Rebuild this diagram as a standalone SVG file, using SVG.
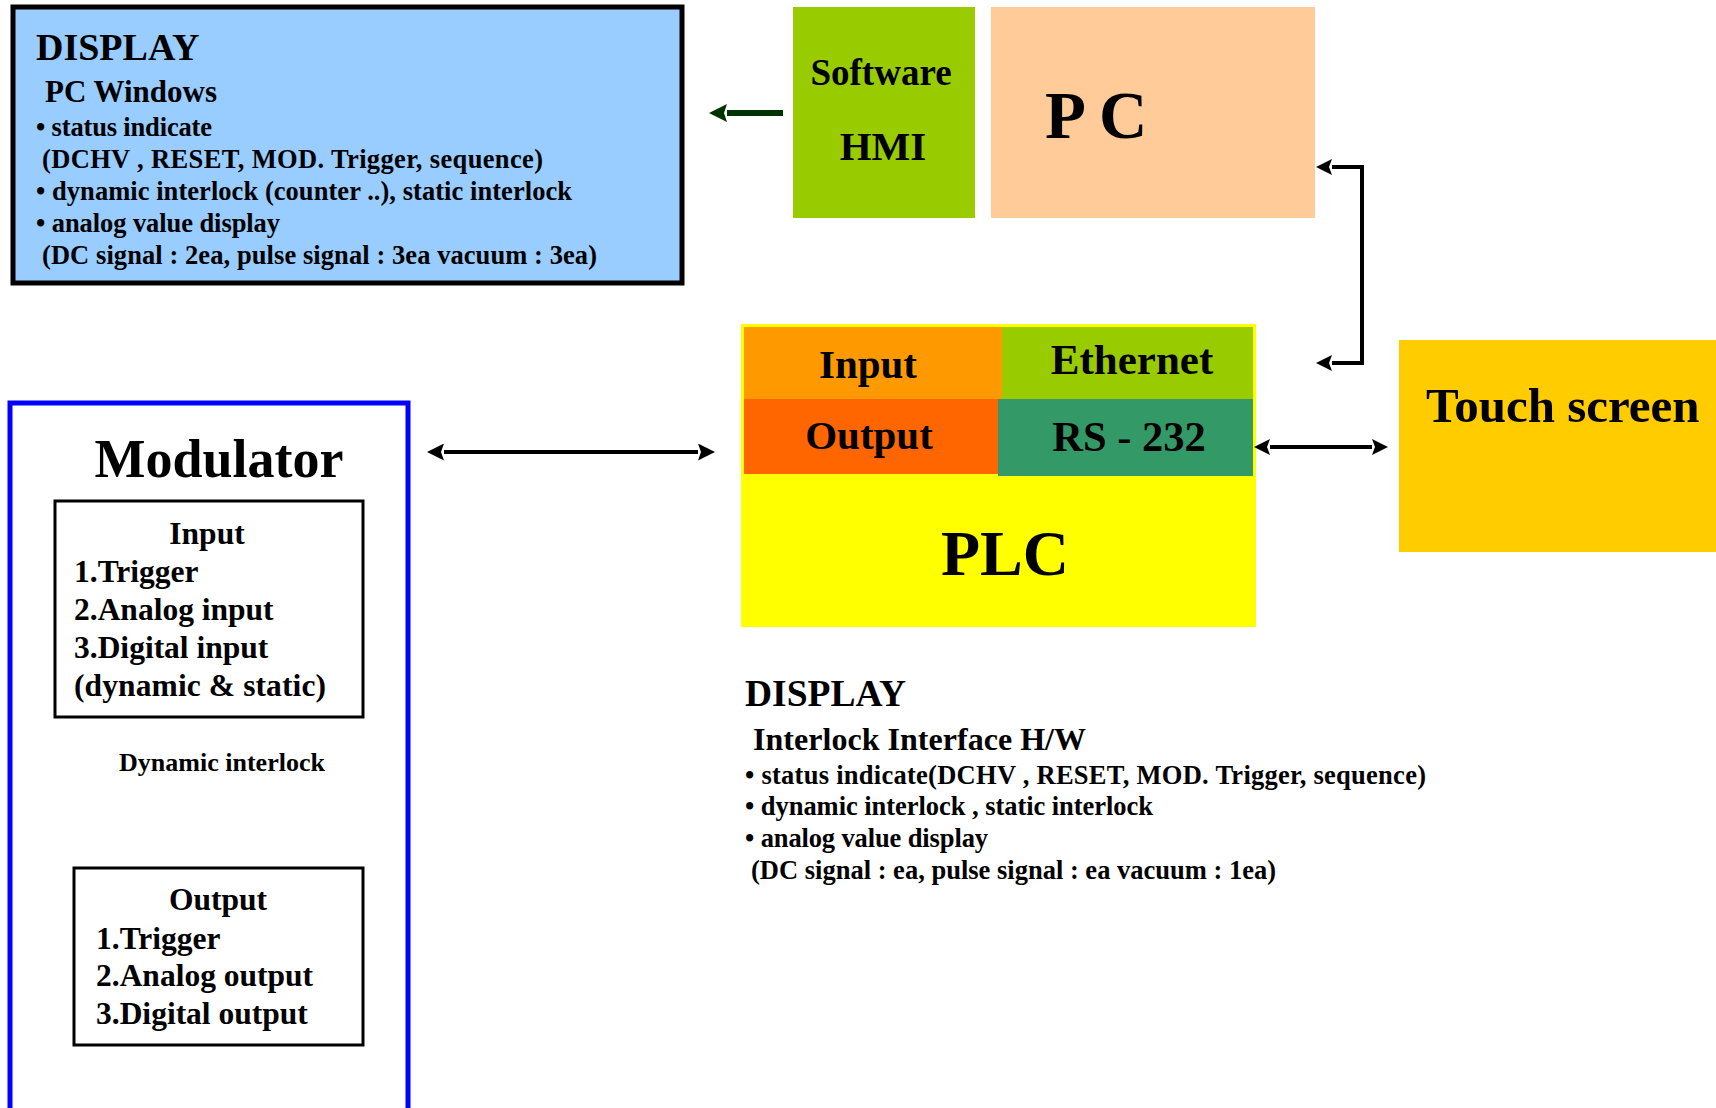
<svg xmlns="http://www.w3.org/2000/svg" width="1716" height="1108" viewBox="0 0 1716 1108">
<style>
text{font-family:"Liberation Serif","Times New Roman",serif;font-weight:bold;fill:#000}
.c{text-anchor:middle}
.conn{fill:none;stroke:#000;stroke-width:4}
</style>
<defs>
<marker id="ah" viewBox="0 0 16 16" refX="0" refY="8" markerWidth="16" markerHeight="16" markerUnits="userSpaceOnUse" orient="auto-start-reverse">
<path d="M0,0 L16,8 L0,16 L3,8 z" fill="#000"/>
</marker>
<marker id="ah2" viewBox="0 0 17 17" refX="0" refY="8.5" markerWidth="17" markerHeight="17" markerUnits="userSpaceOnUse" orient="auto-start-reverse">
<path d="M0,0 L17,8.5 L0,17 L3,8.5 z" fill="#000"/>
</marker>
<marker id="ahg" viewBox="0 0 18 18" refX="0" refY="9" markerWidth="18" markerHeight="18" markerUnits="userSpaceOnUse" orient="auto-start-reverse">
<path d="M0,0 L18,9 L0,18 L3,9 z" fill="#003300"/>
</marker>
</defs>
<rect width="1716" height="1108" fill="#fff"/>

<g id="display-pc">
<rect x="13" y="7" width="669" height="276" fill="#99CCFF" stroke="#000" stroke-width="5"/>
<text x="36" y="60" font-size="38">DISPLAY</text>
<text x="45" y="102" font-size="31">PC Windows</text>
<text x="36" y="136" font-size="26.5" textLength="176">• status indicate</text>
<text x="42" y="168" font-size="26.5" textLength="501">(DCHV , RESET, MOD. Trigger, sequence)</text>
<text x="36" y="200" font-size="26.5" textLength="536">•  dynamic interlock (counter ..), static interlock</text>
<text x="36" y="232" font-size="26.5" textLength="244">• analog value display</text>
<text x="42" y="264" font-size="26.5" textLength="555">(DC signal : 2ea, pulse signal : 3ea vacuum : 3ea)</text>
</g>

<g id="hmi">
<rect x="793" y="7" width="182" height="211" fill="#99CC00"/>
<text class="c" x="881" y="85" font-size="37">Software</text>
<text class="c" x="883" y="160" font-size="41">HMI</text>
</g>

<g id="pc">
<rect x="991" y="7" width="324" height="211" fill="#FFCC99"/>
<text x="1045" y="138" font-size="67">P C</text>
</g>

<g id="plc">
<rect x="742" y="325" width="513" height="301" fill="#FFFF00" stroke="#FFFF00" stroke-width="2"/>
<rect x="744" y="327" width="258" height="72" fill="#FF9900"/>
<rect x="1002" y="327" width="251" height="72" fill="#99CC00"/>
<rect x="744" y="399" width="256" height="75" fill="#FF6600"/>
<rect x="998" y="399" width="255" height="77" fill="#339966"/>
<text class="c" x="868" y="378" font-size="41">Input</text>
<text class="c" x="1132" y="374" font-size="43">Ethernet</text>
<text class="c" x="869" y="449" font-size="41">Output</text>
<text class="c" x="1129" y="451" font-size="42.5">RS - 232</text>
<text class="c" x="1005" y="575" font-size="64">PLC</text>
</g>

<g id="touch-screen">
<rect x="1399" y="340" width="317" height="212" fill="#FFCC00"/>
<text x="1426" y="422" font-size="49">Touch screen</text>
</g>

<g id="modulator">
<rect x="10" y="403" width="398" height="720" fill="none" stroke="#0000FF" stroke-width="5"/>
<text class="c" x="219" y="477" font-size="54">Modulator</text>
<g id="mod-input">
<rect x="55" y="501" width="308" height="216" fill="none" stroke="#000" stroke-width="3"/>
<text class="c" x="207" y="544" font-size="31.5">Input</text>
<text x="74" y="582" font-size="31.5">1.Trigger</text>
<text x="74" y="620" font-size="31.5">2.Analog input</text>
<text x="74" y="658" font-size="31.5">3.Digital input</text>
<text x="74" y="696" font-size="31.5" textLength="252">(dynamic &amp; static)</text>
</g>
<text class="c" x="222" y="771" font-size="26">Dynamic interlock</text>
<g id="mod-output">
<rect x="74" y="868" width="289" height="177" fill="none" stroke="#000" stroke-width="3"/>
<text class="c" x="218" y="910" font-size="31.5">Output</text>
<text x="96" y="949" font-size="31.5">1.Trigger</text>
<text x="96" y="986" font-size="31.5">2.Analog output</text>
<text x="96" y="1024" font-size="31.5">3.Digital output</text>
</g>
</g>

<g id="display-hw">
<text x="745" y="706" font-size="37.5">DISPLAY</text>
<text x="753" y="750" font-size="32" textLength="333">Interlock Interface H/W</text>
<text x="745" y="784" font-size="26.5" textLength="681">• status indicate(DCHV , RESET, MOD. Trigger, sequence)</text>
<text x="745" y="815" font-size="26.5" textLength="408">•  dynamic interlock , static interlock</text>
<text x="745" y="847" font-size="26.5" textLength="243">• analog value display</text>
<text x="751" y="879" font-size="26.5" textLength="525">(DC signal : ea, pulse signal : ea vacuum : 1ea)</text>
</g>

<g id="connectors">
<path d="M783,113 H727" fill="none" stroke="#003300" stroke-width="6" marker-end="url(#ahg)"/>
<path class="conn" d="M1332,167 H1362 V363 H1332" marker-start="url(#ah)" marker-end="url(#ah)"/>
<path class="conn" d="M1270,447 H1372" marker-start="url(#ah)" marker-end="url(#ah)"/>
<path class="conn" d="M444,452 H698" stroke-width="6" marker-start="url(#ah2)" marker-end="url(#ah2)"/>
</g>
</svg>
